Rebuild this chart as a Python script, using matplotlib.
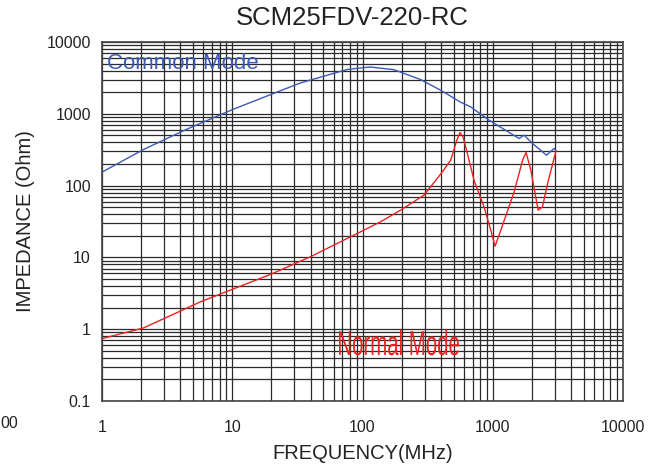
import matplotlib
matplotlib.use("Agg")
import matplotlib.pyplot as plt
from matplotlib.ticker import LogLocator, NullFormatter, FixedFormatter, FixedLocator
from matplotlib.textpath import TextPath
from matplotlib.patches import PathPatch
from matplotlib.font_manager import FontProperties
from matplotlib.transforms import Affine2D

# Common Mode curve (MHz, Ohm)
common_f = [1, 2.08, 4.48, 5.67, 10.2, 33.4, 76.3, 96.5, 115, 174, 279, 398,
            567, 677, 937, 1593, 1741, 2018, 2588, 2955, 3053]
common_z = [154, 318, 611, 733, 1159, 2693, 4140, 4350, 4480, 4120, 3000, 2130,
            1450, 1250, 815, 453, 504, 386, 265, 329, 311]

# Normal Mode curve (MHz, Ohm)
normal_f = [1, 2.08, 5.35, 5.67, 19.6, 39.8, 85.7, 137, 196, 296, 333, 410, 475,
            490, 530, 561, 590, 620, 718, 857, 966, 1042, 1153, 1459, 1700, 1803,
            1960, 2232, 2410, 2636, 3053]
normal_z = [0.74, 1.04, 2.28, 2.4, 5.78, 10.2, 20.4, 31.2, 45.5, 73.5, 96, 155,
            226, 270, 430, 549, 480, 346, 119, 50.5, 23.9, 14.3, 23.9, 81.7, 230,
            289, 164, 45.5, 50.5, 107, 300]

x_ticks = [1, 10, 100, 1000, 10000]
x_labels = ["1", "10", "100", "1000", "10000"]
y_ticks = [0.1, 1, 10, 100, 1000, 10000]
y_labels = ["0.1", "1", "10", "100", "1000", "10000"]

plt.rcParams['font.family'] = ['Liberation Sans', 'DejaVu Sans']

fig = plt.figure(figsize=(6.61, 4.72), dpi=100)
ax = fig.add_axes([102/661, 1-401/472, 521/661, 359/472])

ax.set_xscale("log")
ax.set_yscale("log")
ax.set_xlim(1, 10000)
ax.set_ylim(0.1, 10000)

ax.xaxis.set_major_locator(FixedLocator(x_ticks))
ax.xaxis.set_major_formatter(FixedFormatter(x_labels))
ax.yaxis.set_major_locator(FixedLocator(y_ticks))
ax.yaxis.set_major_formatter(FixedFormatter(y_labels))
ax.xaxis.set_minor_locator(LogLocator(base=10, subs=range(2, 10), numticks=20))
ax.yaxis.set_minor_locator(LogLocator(base=10, subs=range(2, 10), numticks=20))
ax.xaxis.set_minor_formatter(NullFormatter())
ax.yaxis.set_minor_formatter(NullFormatter())

ax.grid(True, which="both", color="#2a2a2a", linewidth=0.9)
ax.tick_params(which="both", length=0, labelsize=11.5, colors="#222222")
ax.tick_params(axis="x", pad=14)
ax.tick_params(axis="y", pad=8)
for s in ax.spines.values():
    s.set_color("#444444")
    s.set_linewidth(1.2)

ax.plot(common_f, common_z, color="#3c5bb4", linewidth=1.0)
ax.plot(normal_f, normal_z, color="#f02020", linewidth=1.0)

ax.text(1.09, 5070, "Common Mode", color="#3c5bb4", fontsize=16,
        ha="left", va="center")

# "Normal Mode" is drawn in a narrow face: squeeze a text path sideways
tp = TextPath((0, 0), "Normal Mode", prop=FontProperties(family="Liberation Sans"), size=25)
bb = tp.get_extents()
sx = (120 * 0.72) / bb.width
tr = (Affine2D().translate(-bb.x0, 0).scale(sx, 1.0).translate(339 * 0.72, (472 - 355) * 0.72)
      + Affine2D().scale(1 / 72.0) + fig.dpi_scale_trans)
fig.add_artist(PathPatch(tp, transform=tr, facecolor="#f02020", edgecolor="none", zorder=5))

ax.set_title("SCM25FDV-220-RC", fontsize=18.5, color="#222222", pad=12, x=0.48)
ax.set_xlabel("FREQUENCY(MHz)", fontsize=14.5, color="#222222", labelpad=6)
ax.set_ylabel("IMPEDANCE (Ohm)", fontsize=14.5, color="#222222", labelpad=8)

# tick label left over at the image edge
fig.text(0, 1-424/472, "00", fontsize=11.5, color="#222222",
         ha="left", va="center")

fig.savefig("out.png", dpi=100)
